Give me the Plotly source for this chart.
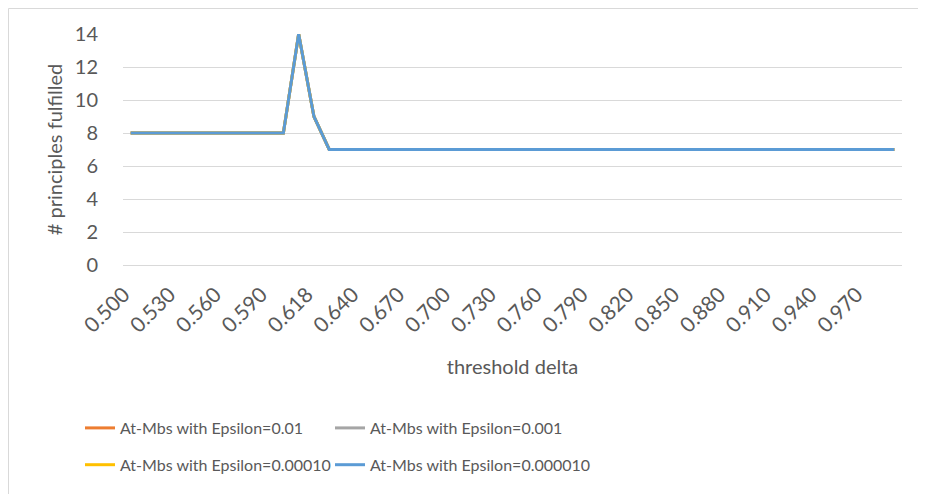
import plotly.graph_objects as go

# Categories (threshold delta)
categories = ["0.500", "0.510", "0.520", "0.530", "0.540", "0.550", "0.560", "0.570",
              "0.580", "0.590", "0.600", "0.610", "0.618", "0.620", "0.630", "0.640",
              "0.650", "0.660", "0.670", "0.680", "0.690", "0.700", "0.710", "0.720",
              "0.730", "0.740", "0.750", "0.760", "0.770", "0.780", "0.790", "0.800",
              "0.810", "0.820", "0.830", "0.840", "0.850", "0.860", "0.870", "0.880",
              "0.890", "0.900", "0.910", "0.920", "0.930", "0.940", "0.950", "0.960",
              "0.970", "0.980", "0.990"]

base = [8, 8, 8, 8, 8, 8, 8, 8, 8, 8, 8, 14, 9] + [7] * 38
eps_001 = list(base)
eps_0001 = list(base)
eps_00010 = list(base)
eps_000010 = list(base)

series_names = ["At-Mbs with Epsilon=0.01", "At-Mbs with Epsilon=0.001",
                "At-Mbs with Epsilon=0.00010", "At-Mbs with Epsilon=0.000010"]
series_values = [eps_001, eps_0001, eps_00010, eps_000010]
colors = ["#ED7D31", "#A5A5A5", "#FFC000", "#5B9BD5"]
legends = ["legend", "legend2", "legend", "legend2"]

tick_labels = categories[::3]

FONT = "Lato"
TXT = "#595959"

fig = go.Figure()
for name, vals, col, lg in zip(series_names, series_values, colors, legends):
    fig.add_trace(go.Scatter(
        x=categories, y=vals, mode="lines", name=name,
        line=dict(color=col, width=3), legend=lg, legendgroup=name,
    ))

# page has an 8px body margin; figure sized to fit inside the window
W, H = 910, 486
L, R, T, B = 115, 16, 26, 229
pw = W - L - R
ph = H - T - B

def px_x(x):
    return (x - L) / pw

def px_y(y):
    return (H - B - y) / ph

border = dict(color="#D9D9D9", width=1)

fig.update_layout(
    width=W, height=H,
    margin=dict(l=L, r=R, t=T, b=B, autoexpand=False),
    paper_bgcolor="white", plot_bgcolor="white",
    font=dict(family=FONT, size=19, color=TXT),
    xaxis=dict(
        type="category", range=[-0.5, len(categories) - 0.5],
        tickmode="array", tickvals=tick_labels, ticktext=tick_labels,
        tickangle=-45, showgrid=False, showline=True, linecolor="#D9D9D9",
        linewidth=1, ticks="", tickfont=dict(size=21, color=TXT),
        ticklabelstandoff=8, ticklabelshift=-7, automargin=False,
        title=dict(text="threshold delta", font=dict(size=20, color=TXT), standoff=24),
        zeroline=False,
    ),
    yaxis=dict(
        range=[0, 14], dtick=2, showgrid=True, gridcolor="#D9D9D9", gridwidth=1,
        zeroline=False, showline=False, ticks="", tickfont=dict(size=20, color=TXT),
        ticklabelstandoff=24, automargin=False,
        title=dict(text="# principles fulfilled", font=dict(size=20, color=TXT), standoff=6),
    ),
    legend=dict(
        orientation="v", x=px_x(72), xanchor="left", y=px_y(403), yanchor="top",
        font=dict(size=16, color=TXT), itemwidth=30, tracegroupgap=13,
        bgcolor="rgba(0,0,0,0)",
    ),
    legend2=dict(
        orientation="v", x=px_x(322), xanchor="left", y=px_y(403), yanchor="top",
        font=dict(size=16, color=TXT), itemwidth=30, tracegroupgap=13,
        bgcolor="rgba(0,0,0,0)",
    ),
    showlegend=True,
    shapes=[
        dict(type="line", xref="paper", yref="paper",
             x0=px_x(0.5), x1=px_x(W), y0=px_y(0.5), y1=px_y(0.5),
             line=border, layer="below"),
        dict(type="line", xref="paper", yref="paper",
             x0=px_x(0.5), x1=px_x(0.5), y0=px_y(0.5), y1=px_y(H),
             line=border, layer="below"),
    ],
)

fig.write_html("out.html")
